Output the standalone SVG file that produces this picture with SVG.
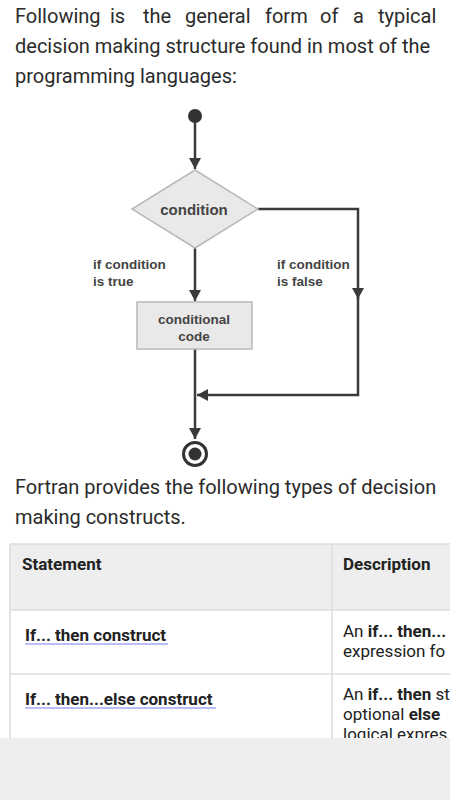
<svg xmlns="http://www.w3.org/2000/svg" width="450" height="800" viewBox="0 0 450 800">
<style>
.body{font-family:Roboto,"Liberation Sans",sans-serif;font-size:20px;fill:#2b2b2b}
.fl{font-family:"Liberation Sans",Arial,sans-serif;font-weight:bold;fill:#444}
.lbl{font-size:13.5px}
.nodef{fill:#e9e9e9;stroke:#b9b9b9;stroke-width:1.5}
.conn{fill:none;stroke:#3a3a3a;stroke-width:2.5}
.tb{font-family:Roboto,"Liberation Sans",sans-serif;font-size:17px;fill:#222}
.b{font-weight:bold}
.grid{stroke:#dddddd;stroke-width:1.5;fill:none}
</style>
<defs>
<marker id="ah" markerWidth="12" markerHeight="12" refX="11" refY="6" orient="auto" markerUnits="userSpaceOnUse">
<path d="M0,0 L11,6 L0,12 z" fill="#3a3a3a"/>
</marker>
</defs>
<rect width="450" height="800" fill="#ffffff"/>
<g id="intro" class="body">
<text y="23"><tspan x="15">Following</tspan><tspan x="110">is</tspan><tspan x="143">the</tspan><tspan x="185">general</tspan><tspan x="265">form</tspan><tspan x="320">of</tspan><tspan x="353">a</tspan><tspan x="378">typical</tspan></text>
<text x="15" y="53">decision making structure found in most of the</text>
<text x="15" y="83">programming languages:</text>
</g>
<g id="connectors">
<path class="conn" d="M195 120 V169" marker-end="url(#ah)"/>
<path class="conn" d="M195 248 V301" marker-end="url(#ah)"/>
<path class="conn" d="M258 209 H358 V299" marker-end="url(#ah)"/>
<path class="conn" d="M358 297 V395 H197" marker-end="url(#ah)"/>
<path class="conn" d="M195 349 V439" marker-end="url(#ah)"/>
</g>
<g id="start"><circle cx="195" cy="116" r="7" fill="#333"/></g>
<g id="decision">
<polygon class="nodef" points="195,170 258,209 195,248 132,209"/>
<text class="fl" x="194" y="215" font-size="15" text-anchor="middle">condition</text>
</g>
<g id="label-true" class="fl lbl">
<text x="93" y="269">if condition</text>
<text x="93" y="286">is true</text>
</g>
<g id="label-false" class="fl lbl">
<text x="277" y="269">if condition</text>
<text x="277" y="286">is false</text>
</g>
<g id="code">
<rect class="nodef" x="137" y="302" width="115" height="47"/>
<text class="fl" x="194" y="324" font-size="13.5" text-anchor="middle">conditional</text>
<text class="fl" x="194" y="341" font-size="13.5" text-anchor="middle">code</text>
</g>
<g id="end">
<circle cx="195" cy="454" r="11.5" fill="#fff" stroke="#333" stroke-width="3"/>
<circle cx="195" cy="454" r="6.5" fill="#333"/>
</g>
<g id="para2" class="body">
<text x="15" y="494">Fortran provides the following types of decision</text>
<text x="15" y="524">making constructs.</text>
</g>
<g id="table">
<rect x="10" y="544" width="460" height="66" fill="#eeeeee"/>
<path class="grid" d="M10 544 H450 M10 544 V740 M332 544 V740 M10 610 H450 M10 674 H450"/>
<text class="tb b" x="22" y="570">Statement</text>
<text class="tb b" x="343" y="570">Description</text>
<text class="tb b" x="25" y="641">If... then construct</text>
<line x1="25" y1="644" x2="168" y2="644" stroke="#7b7bf0" stroke-width="1"/>
<text class="tb" x="343" y="637">An <tspan class="b">if... then...</tspan></text>
<text class="tb" x="343" y="657">expression fo</text>
<text class="tb b" x="25" y="705">If... then...else construct</text>
<line x1="25" y1="708" x2="216" y2="708" stroke="#7b7bf0" stroke-width="1"/>
<text class="tb" x="343" y="700">An <tspan class="b">if... then</tspan> st</text>
<text class="tb" x="343" y="720">optional <tspan class="b">else</tspan></text>
<text class="tb" x="343" y="740">logical expres</text>
</g>
<rect id="bottom-bar" x="0" y="738" width="450" height="62" fill="#eeeeee"/>
</svg>
